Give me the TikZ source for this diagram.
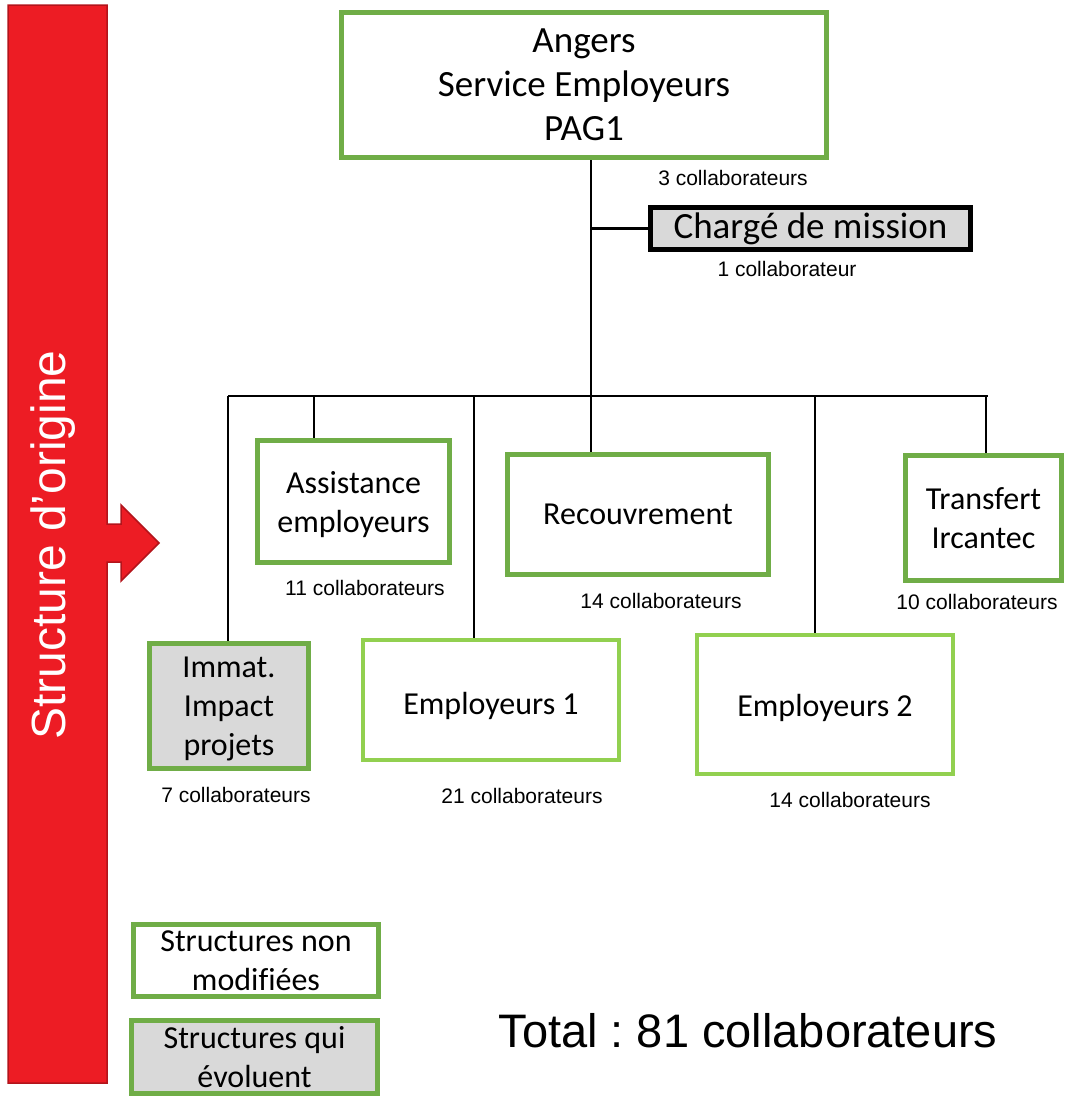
\documentclass[tikz,border=0pt]{standalone}
\usepackage{fontspec}
\setmainfont{Carlito}[Ligatures=NoCommon]
\newfontfamily\arialfont{Liberation Sans}
\frenchspacing
\definecolor{boxGreen}{HTML}{70AD47}
\definecolor{newGreen}{HTML}{92D050}
\definecolor{boxGray}{HTML}{D9D9D9}
\definecolor{barRed}{HTML}{ED1C24}
\definecolor{barEdge}{HTML}{B3141B}
\begin{document}
\begin{tikzpicture}
[x=1pt,y=-1pt,%
  bigFont/.style={font=\fontsize{37}{44}\selectfont},%
  unitBox/.style={shape=rectangle,draw=boxGreen,line width=5pt,inner sep=0pt,align=center,font=\fontsize{32}{39}\selectfont},%
  changedBox/.style={unitBox,fill=boxGray},%
  newBox/.style={unitBox,draw=newGreen,line width=4pt},%
  countLabel/.style={font=\arialfont\fontsize{21}{25}\selectfont},%
  thinLine/.style={-,line width=1.3pt}]
\useasboundingbox (0,0) rectangle (1076,1103);
%% red side bar with its arrow
\draw[fill=barRed,draw=barEdge,line width=1.5pt] (8,5) -- (107,5) -- (107,524) -- (121,524) -- (121,505) -- (159,543) -- (121,581) -- (121,562) -- (107,562) -- (107,1083) -- (8,1083) -- cycle;
\node (origin) at (65,545) [rotate=90,anchor=base,text=white,font=\arialfont\fontsize{48}{58}\selectfont] {Structure d’origine};
%% boxes
\node (angers) at (584,85) [unitBox,bigFont,minimum width=485pt,minimum height=145pt] {Angers\\Service Employeurs\\PAG1};
\node (mission) at (810.5,228.5) [unitBox,bigFont,draw=black,fill=boxGray,minimum width=320pt,minimum height=42pt] {Chargé de mission};
\node (assist) at (353.5,501.5) [unitBox,minimum width=192pt,minimum height=122pt,text depth=0pt] {Assistance\\employeurs};
\node (recouv) at (638,514.5) [unitBox,minimum width=261pt,minimum height=120pt] {Recouvrement};
\node (transf) at (983.5,518) [unitBox,minimum width=156pt,minimum height=125pt] {Transfert\\Ircantec};
\node (immat) at (229,706) [changedBox,minimum width=159pt,minimum height=125pt,text depth=-2pt] {Immat.\\Impact\\projets};
\node (emp1) at (491,700) [newBox,minimum width=256pt,minimum height=120pt,text height=36pt,text depth=8pt] {Employeurs 1};
\node (emp2) at (825,704.5) [newBox,minimum width=256pt,minimum height=139pt,text height=32pt,text depth=8pt] {Employeurs 2};
%% head counts
\foreach \labelname/\x/\y/\nb in {angers/733/178/3, assist/365/588/11, recouv/661/601/14, transf/977/602/10, immat/236/795/7, emp1/522/796/21, emp2/850/800/14}
{
  \node (\labelname Count) at (\x,\y) [countLabel] {\nb\ collaborateurs};
}
\node (missionCount) at (787,269) [countLabel] {1 collaborateur};
%% connectors
\coordinate (busL) at (228,396);
\coordinate (busR) at (988,396);
\coordinate (trunk) at (591,396);
\draw[thinLine] (angers.south -| trunk) -- (recouv.north -| trunk);
\draw[line width=2.5pt] (mission.west -| trunk) -- (mission.west);
\draw[thinLine] (busL) -- (busR);
\foreach \target/\x in {immat/228, assist/314, emp1/474, emp2/815, transf/986}
{
  \coordinate (drop\target) at (\x,396);
  \draw[thinLine] (drop\target) -- (\target.north -| drop\target);
}
%% legend and total
\node (keySame) at (256,960.5) [unitBox,minimum width=245pt,minimum height=72pt] {Structures non\\modifiées};
\node (keyChanged) at (254.5,1057) [changedBox,minimum width=246pt,minimum height=73pt] {Structures qui\\évoluent};
\node (total) at (748,1031) [font=\arialfont\fontsize{47}{56}\selectfont] {Total : 81 collaborateurs};
\end{tikzpicture}
\end{document}
